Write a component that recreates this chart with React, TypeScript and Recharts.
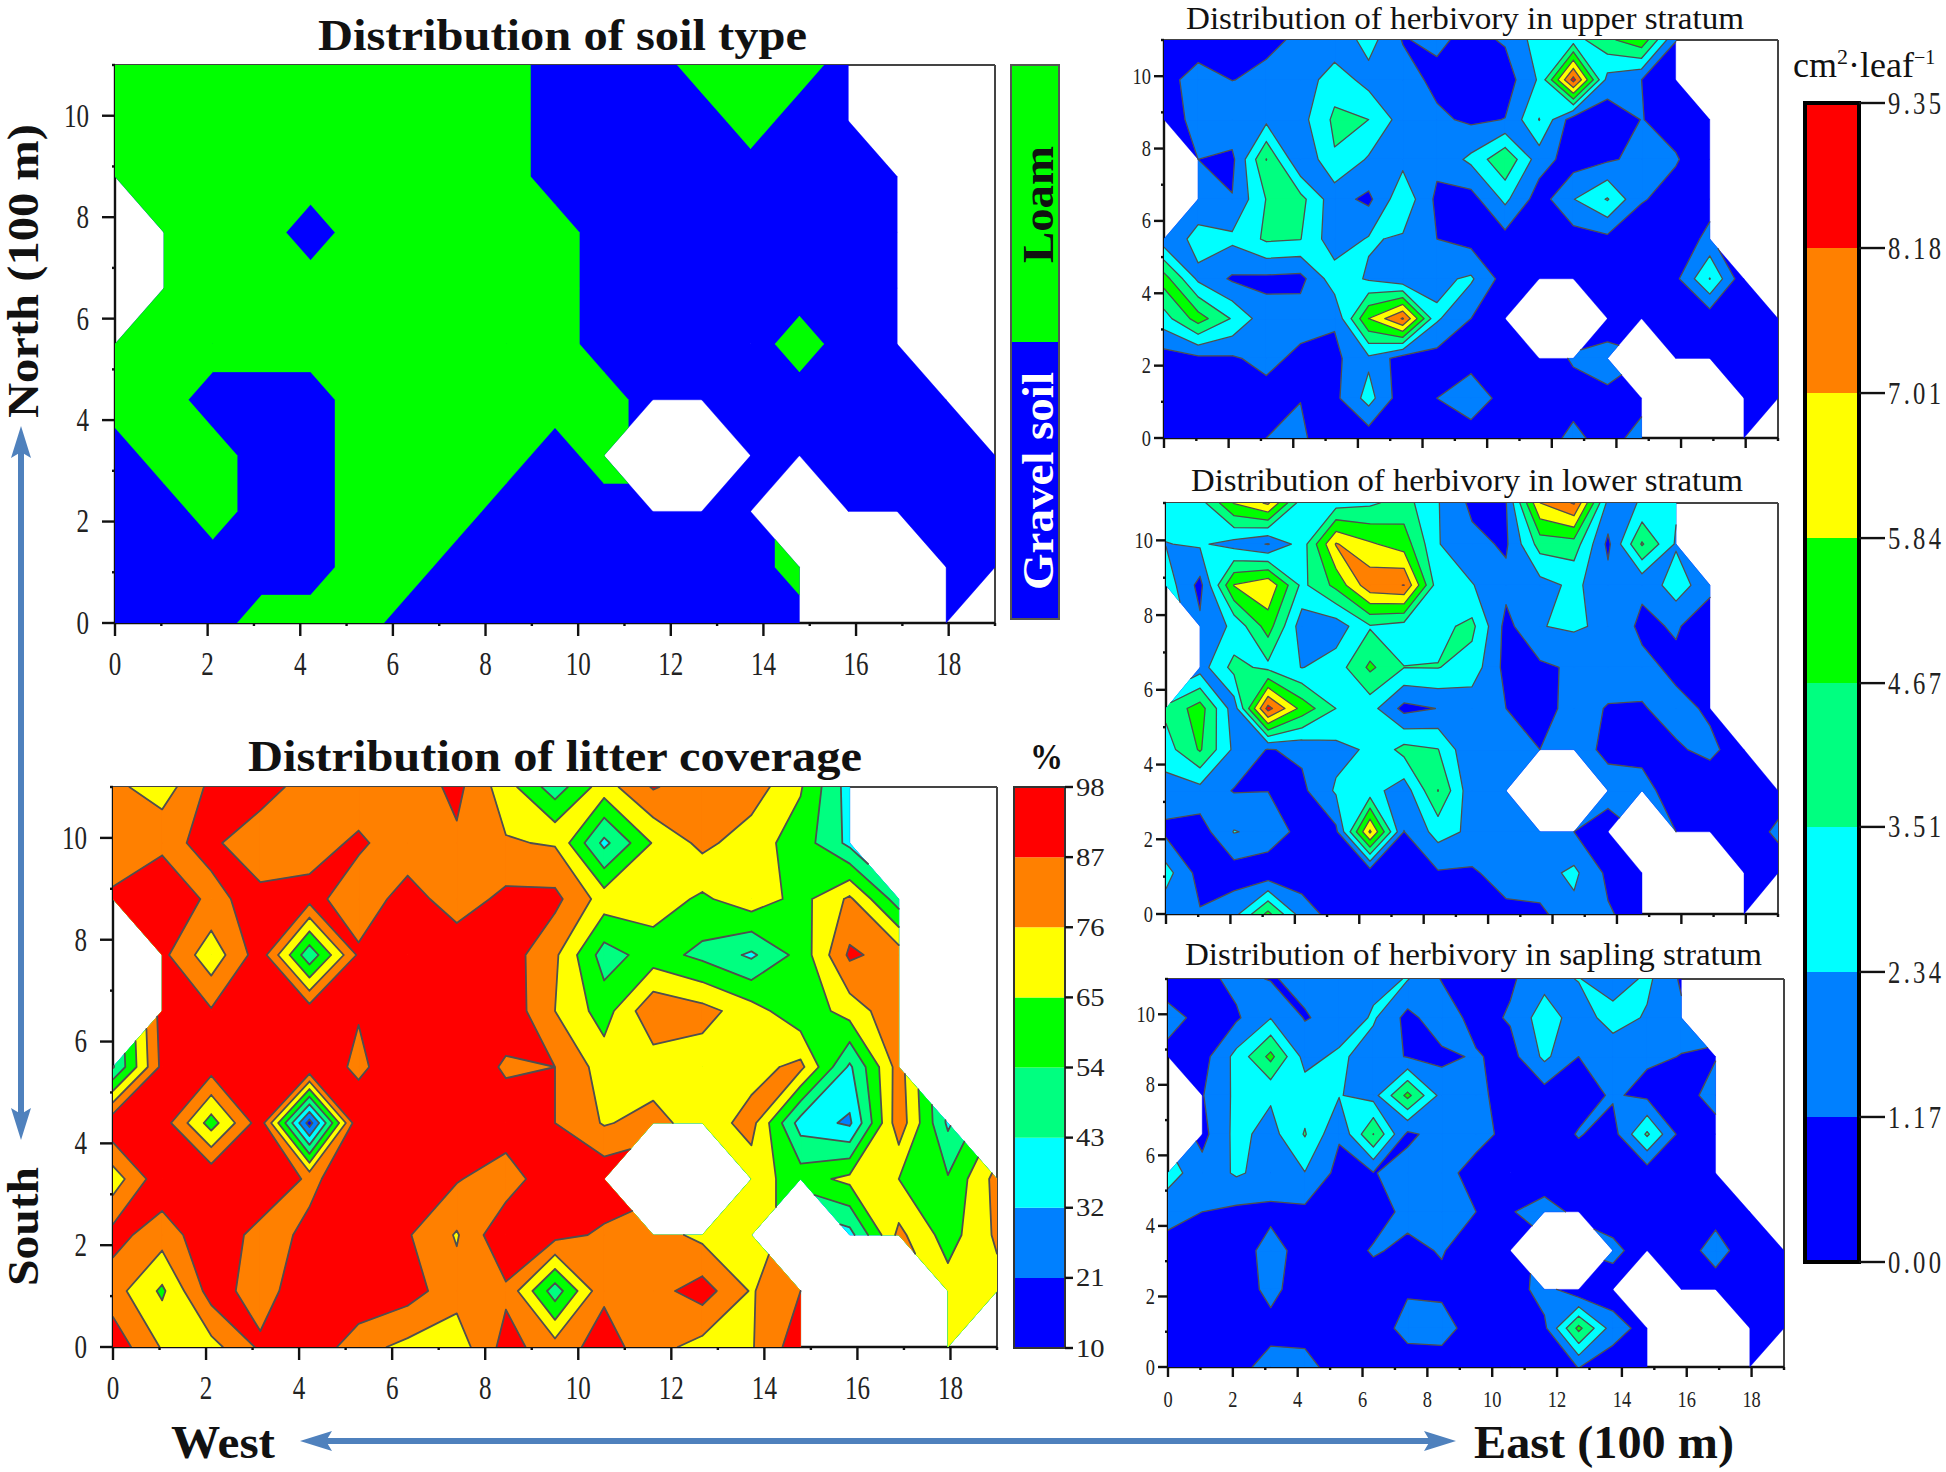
import { ReferenceArea, ReferenceLine, Scatter, ScatterChart, XAxis, YAxis } from 'recharts'

const M = null
const SERIF = '"Liberation Serif", serif'

const bandColors = ['#0000ff', '#0080ff', '#00ffff', '#00ff80', '#00ff00', '#ffff00', '#ff8000', '#ff0000']
const litterLevels = [10, 21, 32, 43, 54, 65, 76, 87, 98]
const herbLevels = [0, 1.17, 2.34, 3.51, 4.67, 5.84, 7.01, 8.18, 9.35]
const soilColors = ['#0000ff', '#00ff00']
const soilLevels = [0, 0.5, 1]

// rows run from north (y = 11) to south (y = 0), 19 columns from west to east
const soilGrid = [
  [1, 1, 1, 1, 1, 1, 1, 1, 1, 0, 0, 0, 1, 1, 1, 0, M, M, M],
  [1, 1, 1, 1, 1, 1, 1, 1, 1, 0, 0, 0, 0, 1, 0, 0, M, M, M],
  [1, 1, 1, 1, 1, 1, 1, 1, 1, 0, 0, 0, 0, 0, 0, 0, 0, M, M],
  [M, 1, 1, 1, 0, 1, 1, 1, 1, 1, 0, 0, 0, 0, 0, 0, 0, M, M],
  [M, 1, 1, 1, 1, 1, 1, 1, 1, 1, 0, 0, 0, 0, 0, 0, 0, M, M],
  [1, 1, 1, 1, 1, 1, 1, 1, 1, 1, 0, 0, 0, 0, 1, 0, 0, M, M],
  [1, 1, 0, 0, 0, 1, 1, 1, 1, 1, 1, 0, 0, 0, 0, 0, 0, 0, M],
  [0, 1, 1, 0, 0, 1, 1, 1, 1, 0, 1, M, M, 0, 0, 0, 0, 0, 0],
  [0, 0, 1, 0, 0, 1, 1, 1, 0, 0, 0, 0, 0, 0, M, 0, 0, 0, 0],
  [0, 0, 0, 0, 0, 1, 1, 0, 0, 0, 0, 0, 0, 0, 1, M, M, 0, 0],
  [0, 0, 0, 1, 1, 1, 0, 0, 0, 0, 0, 0, 0, 0, 0, M, M, 0, M],
]

const litterGrid = [
  [79, 70, 90, 92, 82, 80, 80, 90, 70, 48, 71, 88, 80, 82, 66, 38, M, M, M],
  [80, 85, 89, 80, 82, 89, 80, 85, 77, 75, 40, 66, 79, 70, 60, 40, M, M, M],
  [89, 94, 85, 90, 91, 80, 92, 81, 90, 90, 71, 71, 63, 72, 61, 78, 48, M, M],
  [M, 90, 69, 93, 46, 89, 95, 95, 93, 78, 49, 59, 51, 41, 58, 89, 82, M, M],
  [M, 92, 88, 95, 93, 88, 96, 95, 95, 76, 60, 85, 80, 70, 57, 70, 84, M, M],
  [42, 90, 92, 96, 97, 84, 98, 98, 85, 87, 71, 70, 70, 72, 79, 41, 81, M, M],
  [96, 93, 60, 93, 16, 97, 98, 98, 95, 87, 75, 80, 70, 80, 38, 30, 83, 41, M],
  [70, 95, 97, 97, 85, 93, 92, 88, 80, 97, 95, M, M, 70, 60, 68, 65, 55, 80],
  [91, 81, 95, 83, 89, 98, 88, 75, 97, 91, 85, 81, 73, 70, M, 39, 79, 60, 78],
  [81, 63, 92, 82, 95, 97, 92, 80, 85, 48, 85, 83, 92, 75, 87, M, M, 70, 72],
  [94, 75, 72, 89, 96, 80, 73, 70, 91, 81, 92, 80, 72, 75, 94, M, M, 70, M],
]

const upperGrid = [
  [0.5, 0.6, 0.8, 1.0, 1.3, 1.5, 2.8, 1.1, 1.4, 0.8, 1.3, 2.9, 3.0, 4.4, 5.5, 1.2, M, M, M],
  [0.8, 1.6, 1.15, 1.35, 1.6, 3.0, 1.9, 1.7, 0.85, 0.4, 0.55, 2.5, 8.6, 1.9, 1.17, 0.5, M, M, M],
  [0.8, 1.4, 2.0, 2.05, 1.9, 3.75, 3.51, 1.8, 1.4, 0.95, 1.2, 3.55, 0.5, 0.4, 1.2, 0.8, 0.5, M, M],
  [M, 1.17, 0.9, 4.7, 1.2, 3.4, 2.2, 2.0, 1.5, 2.6, 4.5, 1.7, 0.6, 1.0, 1.5, 1.25, 0.5, M, M],
  [M, 1.7, 1.22, 3.55, 3.9, 1.6, 0.9, 3.2, 0.9, 0.7, 2.6, 0.6, 2.3, 3.6, 1.25, 0.8, 0.8, M, M],
  [1.6, 2.7, 2.6, 3.7, 3.55, 1.6, 2.45, 2.2, 1.17, 0.75, 0.75, 0.5, 0.6, 0.85, 0.5, 0.5, 1.45, M, M],
  [5.2, 2.1, 1.0, 0.9, 0.8, 3.0, 2.2, 1.4, 2.1, 2.5, 0.65, 0.5, 0.5, 0.5, 0.5, 0.88, 3.55, 0.3, M],
  [3.0, 5.2, 3.4, 1.6, 1.8, 1.3, 5.85, 8.3, 2.5, 1.17, 0.8, M, M, 0.7, 0.5, 0.5, 0.4, 0.4, 0.4],
  [0.6, 0.9, 1.0, 1.6, 0.8, 0.9, 2.1, 0.6, 0.7, 0.9, 0.5, 0.5, 1.3, 1.5, M, 0.5, 0.5, 0.5, 0.4],
  [0.6, 0.6, 0.6, 0.6, 1.14, 0.86, 2.8, 0.44, 1.17, 1.6, 0.9, 0.6, 0.7, 1.0, 0.7, M, M, 0.5, 0.4],
  [0.5, 0.5, 0.5, 1.17, 1.4, 0.3, 0.47, 0.5, 0.5, 0.8, 0.5, 0.5, 1.5, 0.6, 1.7, M, M, 0.4, M],
]

const lowerGrid = [
  [3, 3, 5.9, 7.2, 2.8, 3, 3.3, 4, 2.4, 0.9, 1.1, 7, 8.3, 2, 2.4, 2.5, M, M, M],
  [2.3, 2.5, 1.9, 1.1, 2.9, 7.1, 6.0, 5.3, 2.4, 1.5, 1.0, 4.0, 4.13, 0.9, 4.8, 2.2, M, M, M],
  [3, 0.8, 5.9, 6.8, 3.2, 5.0, 7.8, 8.2, 2.8, 2.4, 1.5, 1.9, 2.6, 1.6, 1.4, 3.0, 1.5, M, M],
  [M, 1.4, 2.6, 5.2, 1.7, 1.7, 3.4, 3.0, 3.2, 3.8, 0.8, 2.3, 2.5, 2.1, 0.9, 1.3, 0.4, M, M],
  [M, 1.8, 3.9, 3.2, 2.3, 2.9, 4.9, 3.53, 3.55, 3.0, 0.8, 0.94, 1.35, 1.7, 1.5, 0.9, 0.6, M, M],
  [3.8, 5.2, 1.7, 8.6, 5.4, 3.5, 2.8, 0.8, 1.2, 1.6, 1.17, 0.7, 1.6, 1.1, 1.1, 1.5, 1.0, M, M],
  [3, 4.8, 2.1, 1.1, 1.4, 2.0, 2.5, 3.9, 3.55, 1.2, 1.6, 1.17, 1.3, 1.1, 0.9, 1.05, 1.4, 0.6, M],
  [1.8, 1.9, 1.1, 1.15, 0.9, 2.5, 2.8, 1.7, 4.7, 1.5, 1.3, M, M, 1.3, 1.5, 0.7, 0.5, 0.5, 0.6],
  [0.9, 0.6, 2.4, 2.0, 0.7, 0.9, 7.2, 1.15, 2.8, 2.1, 1.6, 1.3, 1.17, 1.0, M, 1.17, 0.6, 0.5, 1.4],
  [2.8, 0.7, 0.6, 0.3, 0.6, 0.7, 0.42, 0.7, 1.05, 1.0, 1.7, 1.9, 2.6, 0.9, 0.6, M, M, 0.5, 0.5],
  [1.6, 1.27, 1.9, 5, 1.7, 0.7, 0.9, 0.8, 0.8, 0.8, 0.85, 0.9, 2.0, 1.3, 0.6, M, M, 0.5, M],
]

const saplingGrid = [
  [0.5, 0.8, 1.5, 1.1, 1.4, 1.6, 2.0, 2.4, 1.1, 0.6, 1.0, 1.9, 2.4, 1.6, 2.6, 1.0, M, M, M],
  [1.6, 0.8, 1.0, 2.3, 1.1, 1.5, 2.5, 0.8, 1.9, 0.7, 1.3, 3.0, 1.7, 2.9, 2.2, 1.4, M, M, M],
  [0.8, 0.7, 2.7, 5, 1.9, 2.6, 1.7, 1.1, 0.9, 1.3, 0.7, 2.6, 1.17, 1.5, 1.3, 1.15, 1.1, M, M],
  [M, 1.1, 2.6, 2.5, 3.0, 2.4, 1.9, 5.0, 1.9, 1.5, 0.6, 0.6, 0.7, 1.3, 0.9, 0.6, 1.7, M, M],
  [M, 0.8, 2.7, 1.9, 3.6, 1.3, 4.7, 0.9, 1.7, 1.6, 0.8, 0.5, 1.25, 0.7, 3.7, 0.7, 0.6, M, M],
  [2.9, 1.6, 2.5, 1.9, 2.3, 0.8, 1.1, 1.7, 1.6, 0.7, 0.5, 0.5, 0.5, 0.5, 0.5, 0.5, 0.5, M, M],
  [1.5, 1.17, 0.9, 0.9, 0.9, 0.5, 0.6, 1.5, 1.7, 1.17, 1.1, 1.6, 0.9, 0.5, 0.5, 0.5, 0.7, 0.4, M],
  [0.8, 0.5, 0.6, 1.6, 0.7, 0.5, 1.3, 0.9, 1.25, 0.5, 0.4, M, M, 1.5, 0.5, 0.5, 1.7, 0.4, 0.4],
  [0.5, 0.5, 0.5, 1.5, 0.5, 0.5, 0.5, 1.03, 0.9, 0.5, 0.5, 1.7, 0.2, 0.5, M, 0.5, 0.5, 0.4, 0.4],
  [0.5, 0.5, 0.5, 0.8, 0.8, 0.5, 0.5, 1.6, 1.7, 0.5, 0.5, 0.9, 5, 1.7, 0.7, M, M, 0.4, 0.4],
  [0.5, 0.5, 0.8, 1.6, 1.5, 0.7, 0.5, 0.5, 0.5, 0.5, 0.5, 0.5, 1.2, 0.5, 0.5, M, M, 0.4, M],
]

// cells (column, row of the SW corner) whose saddle joins the SW-NE corners instead of NW-SE
const litterFlips = ['5,8', '4,8', '9,9', '13,4', '0,2', '3,2', '7,2']
const upperFlips = ['6,5', '5,4', '8,3', '11,6']
const lowerFlips = ['14,8', '8,6']
const saplingFlips = ['6,9', '5,8', '12,6', '6,5', '6,3', '13,9']

const xTicks = Array.from({ length: 20 }, (_, i) => i)
const yTicks = Array.from({ length: 12 }, (_, i) => i)

type Node = { x: number; y: number; v: number }
type Pt = { x: number; y: number }
type Cell = { nodes: Node[]; flip: boolean }

// grid cells as polygons (sw, se, ne, nw); a cell with one missing corner keeps the other three
function gridCells(grid: (number | null)[][], flips: string[]) {
  const node = (i: number, j: number): Node | null => {
    const v = grid[10 - j][i]
    return v === null ? null : { x: (i * 19) / 18, y: j * 1.1, v }
  }
  const cells: Cell[] = []
  for (let j = 0; j < 10; j++) {
    for (let i = 0; i < 18; i++) {
      const nodes = [node(i, j), node(i + 1, j), node(i + 1, j + 1), node(i, j + 1)].filter(Boolean) as Node[]
      if (nodes.length >= 3) cells.push({ nodes, flip: flips.includes(`${i},${j}`) })
    }
  }
  return cells
}

function crossing(a: Node, b: Node, level: number): Pt {
  const t = (level - a.v) / (b.v - a.v)
  return { x: a.x + (b.x - a.x) * t, y: a.y + (b.y - a.y) * t }
}

function clipPolygon(cell: Node[], level: number) {
  const start = cell.findIndex((n) => n.v >= level)
  if (start < 0) return { rings: [] as Pt[][], segments: [] as Pt[] }
  const ring: Pt[] = []
  const segments: Pt[] = []
  let leaving: Pt | null = null
  for (let k = 0; k < cell.length; k++) {
    const a = cell[(start + k) % cell.length]
    const b = cell[(start + k + 1) % cell.length]
    const aIn = a.v >= level
    const bIn = b.v >= level
    if (aIn) ring.push({ x: a.x, y: a.y })
    if (aIn && !bIn) {
      leaving = crossing(a, b, level)
      ring.push(leaving)
    } else if (!aIn && bIn) {
      const entering = crossing(a, b, level)
      ring.push(entering)
      if (leaving) segments.push(leaving, entering)
    }
  }
  return { rings: [ring], segments }
}

// two high corners of a saddle either stay joined or are cut off as separate triangles
function clipCell(cell: Cell, level: number) {
  if (cell.nodes.length === 4) {
    const [sw, se, ne, nw] = cell.nodes
    const swNe = sw.v >= level && ne.v >= level && se.v < level && nw.v < level
    const nwSe = nw.v >= level && se.v >= level && sw.v < level && ne.v < level
    const pair = !cell.flip && swNe ? [sw, ne] : cell.flip && nwSe ? [nw, se] : null
    if (pair) {
      const lows = swNe ? [se, nw] : [sw, ne]
      const rings: Pt[][] = []
      const segments: Pt[] = []
      pair.forEach((corner) => {
        const a = crossing(corner, lows[0], level)
        const b = crossing(corner, lows[1], level)
        rings.push([{ x: corner.x, y: corner.y }, a, b])
        segments.push(a, b)
      })
      return { rings, segments }
    }
  }
  return clipPolygon(cell.nodes, level)
}

function Nothing() {
  return <g />
}

function ContourPanel({ grid, flips = [], levels, colors, rect, labelX, sizes, contour }: any) {
  const { left, top, right, bottom } = rect
  const yw = 70
  const xh = 70
  const m = 4
  const cells = gridCells(grid, flips)
  const bands: { color: string; points: Pt[]; sizes: number[] }[] = []
  const lines: Pt[] = []
  colors.forEach((color: string, k: number) => {
    const points: Pt[] = []
    const ringSizes: number[] = []
    cells.forEach((cell) => {
      const { rings, segments } = k === 0 ? { rings: [cell.nodes as Pt[]], segments: [] } : clipCell(cell, levels[k])
      rings.forEach((ring) => {
        points.push(...ring.map((p) => ({ x: p.x, y: p.y })))
        ringSizes.push(ring.length)
      })
      lines.push(...segments)
    })
    bands.push({ color, points, sizes: ringSizes })
  })

  const xTick = (p: any) => {
    const even = p.payload.value % 2 === 0
    return (
      <g>
        <line x1={p.x} x2={p.x} y1={p.y} y2={p.y + (even ? sizes.major : 3)} stroke="#111" strokeWidth={2.4} />
        {even && labelX && (
          <text
            transform={`translate(${p.x},${p.y + sizes.xBase}) scale(${sizes.sx},1)`}
            textAnchor="middle"
            fontFamily={SERIF}
            fontSize={sizes.font}
            fill="#222"
          >
            {p.payload.value}
          </text>
        )}
      </g>
    )
  }
  const yTick = (p: any) => {
    const even = p.payload.value % 2 === 0
    return (
      <g>
        <line x1={p.x} x2={p.x - (even ? sizes.major : 3)} y1={p.y} y2={p.y} stroke="#111" strokeWidth={2.4} />
        {even && (
          <text
            transform={`translate(${p.x - sizes.yGap},${p.y + sizes.font * 0.33}) scale(${sizes.sx},1)`}
            textAnchor="end"
            fontFamily={SERIF}
            fontSize={sizes.font}
            fill="#222"
          >
            {p.payload.value}
          </text>
        )}
      </g>
    )
  }

  return (
    <div style={{ position: 'absolute', left: left - yw, top: top - m }}>
      <ScatterChart
        width={right - left + yw + m}
        height={bottom - top + xh + m}
        margin={{ top: m, right: m, bottom: 0, left: 0 }}
      >
        <XAxis
          type="number"
          dataKey="x"
          domain={[0, 19]}
          ticks={xTicks}
          interval={0}
          height={xh}
          tickSize={0}
          tickMargin={0}
          tickLine={false}
          tick={xTick}
          axisLine={{ stroke: '#111', strokeWidth: 2.4 }}
          allowDataOverflow
        />
        <YAxis
          type="number"
          dataKey="y"
          domain={[0, 11]}
          ticks={yTicks}
          interval={0}
          width={yw}
          tickSize={0}
          tickMargin={0}
          tickLine={false}
          tick={yTick}
          axisLine={{ stroke: '#111', strokeWidth: 2.4 }}
          allowDataOverflow
        />
        {bands.map((band) => (
          <Scatter
            key={band.color}
            data={band.points}
            isAnimationActive={false}
            shape={Nothing}
            line={(props: any) => {
              let d = ''
              let at = 0
              band.sizes.forEach((n) => {
                const ring = props.points.slice(at, at + n)
                d += ring.map((q: Pt, idx: number) => `${idx ? 'L' : 'M'}${q.x} ${q.y}`).join('') + 'Z'
                at += n
              })
              return <path d={d} fill={band.color} stroke={band.color} strokeWidth={0.4} />
            }}
          />
        ))}
        {contour && (
          <Scatter
            data={lines}
            isAnimationActive={false}
            shape={Nothing}
            line={(props: any) => {
              let d = ''
              for (let s = 0; s + 1 < props.points.length; s += 2) {
                const a = props.points[s]
                const b = props.points[s + 1]
                d += `M${a.x} ${a.y}L${b.x} ${b.y}`
              }
              return <path d={d} fill="none" stroke="#4f4f4f" strokeWidth={contour} strokeLinecap="round" />
            }}
          />
        )}
        <ReferenceLine y={11} stroke="#444" strokeWidth={2} />
        <ReferenceLine x={19} stroke="#444" strokeWidth={2} />
      </ScatterChart>
    </div>
  )
}

function ColorBar({ levels, colors, rect, tickLen, label, frame, showTicks }: any) {
  const { left, top, right, bottom } = rect
  const rw = 84
  const m = 20
  const lo = levels[0]
  const hi = levels[levels.length - 1]
  const tick = (p: any) =>
    showTicks ? (
      <text
        transform={`translate(${p.x},${p.y + label.font * 0.33}) scale(${label.sx},1)`}
        fontFamily={SERIF}
        fontSize={label.font}
        letterSpacing={label.spacing}
        fill="#222"
      >
        {Number(p.payload.value).toFixed(label.decimals)}
      </text>
    ) : (
      <g />
    )
  return (
    <div style={{ position: 'absolute', left: left - m, top: top - m }}>
      <ScatterChart
        width={right - left + rw + m}
        height={bottom - top + 2 * m}
        margin={{ top: m, right: 0, bottom: m, left: m }}
      >
        <XAxis type="number" dataKey="x" domain={[0, 1]} hide height={0} />
        <YAxis
          type="number"
          dataKey="y"
          orientation="right"
          domain={[lo, hi]}
          ticks={levels}
          interval={0}
          width={rw}
          tickSize={tickLen}
          tickMargin={3}
          tickLine={showTicks ? { stroke: '#111', strokeWidth: 2.4 } : false}
          axisLine={false}
          tick={tick}
        />
        <Scatter
          data={[
            { x: 0, y: lo },
            { x: 1, y: hi },
          ]}
          isAnimationActive={false}
          shape={Nothing}
        />
        {colors.map((color: string, k: number) => (
          <ReferenceArea key={color} x1={0} x2={1} y1={levels[k]} y2={levels[k + 1]} fill={color} fillOpacity={1} stroke="none" />
        ))}
        <ReferenceArea x1={0} x2={1} y1={lo} y2={hi} fill="none" stroke={frame.color} strokeWidth={frame.width} />
      </ScatterChart>
    </div>
  )
}

const bigTicks = { major: 13, xBase: 52, yGap: 26, font: 33, sx: 0.76 }
const smallTicks = { major: 10, xBase: 40, yGap: 13, font: 23, sx: 0.8 }

const T = ({ x, y, w, size, bold, rotate, fill, children }: any) => (
  <text
    x={rotate ? 0 : x}
    y={rotate ? 0 : y}
    transform={rotate ? `translate(${x},${y}) rotate(-90)` : undefined}
    textLength={w}
    lengthAdjust="spacingAndGlyphs"
    fontFamily={SERIF}
    fontSize={size}
    fontWeight={bold ? 700 : 400}
    fill={fill ?? '#111'}
  >
    {children}
  </text>
)

export default function App() {
  const arrow = '#4f81bd'
  return (
    <div style={{ position: 'absolute', left: 0, top: 0, width: 1946, height: 1472, background: '#fff', overflow: 'hidden' }}>
      <ContourPanel grid={soilGrid} levels={soilLevels} colors={soilColors} rect={{ left: 115, top: 65, right: 995, bottom: 623 }} labelX sizes={bigTicks} />
      <ContourPanel grid={litterGrid} flips={litterFlips} levels={litterLevels} colors={bandColors} rect={{ left: 113, top: 787, right: 997, bottom: 1347 }} labelX sizes={bigTicks} contour={1.8} />
      <ContourPanel grid={upperGrid} flips={upperFlips} levels={herbLevels} colors={bandColors} rect={{ left: 1164, top: 40, right: 1778, bottom: 438 }} sizes={smallTicks} contour={1.3} />
      <ContourPanel grid={lowerGrid} flips={lowerFlips} levels={herbLevels} colors={bandColors} rect={{ left: 1166, top: 503, right: 1778, bottom: 914 }} sizes={smallTicks} contour={1.3} />
      <ContourPanel grid={saplingGrid} flips={saplingFlips} levels={herbLevels} colors={bandColors} rect={{ left: 1168, top: 979, right: 1784, bottom: 1367 }} labelX sizes={smallTicks} contour={1.3} />

      <ColorBar levels={soilLevels} colors={soilColors} rect={{ left: 1011, top: 65, right: 1059, bottom: 619 }} tickLen={0} label={{ font: 20, sx: 1, spacing: 0, decimals: 0 }} frame={{ color: '#555', width: 2 }} showTicks={false} />
      <ColorBar levels={litterLevels} colors={bandColors} rect={{ left: 1014, top: 787, right: 1065, bottom: 1348 }} tickLen={8} label={{ font: 26, sx: 1.1, spacing: 0, decimals: 0 }} frame={{ color: '#333', width: 2 }} showTicks />
      <ColorBar levels={herbLevels} colors={bandColors} rect={{ left: 1805, top: 103, right: 1859, bottom: 1262 }} tickLen={26} label={{ font: 32, sx: 0.77, spacing: 4.3, decimals: 2 }} frame={{ color: '#000', width: 4 }} showTicks />

      <svg width={1946} height={1472} style={{ position: 'absolute', left: 0, top: 0, pointerEvents: 'none' }}>
        <T x={318} y={50} w={489} size={44} bold>Distribution of soil type</T>
        <T x={248} y={771} w={614} size={44} bold>Distribution of litter coverage</T>
        <T x={1186} y={29} w={558} size={32}>Distribution of herbivory in upper stratum</T>
        <T x={1191} y={491} w={552} size={32}>Distribution of herbivory in lower stratum</T>
        <T x={1185} y={965} w={577} size={32}>Distribution of herbivory in sapling stratum</T>

        <T x={38} y={418} w={294} size={44} bold rotate>North (100 m)</T>
        <T x={38} y={1286} w={119} size={44} bold rotate>South</T>
        <T x={171} y={1458} w={104} size={46} bold>West</T>
        <T x={1474} y={1458} w={260} size={46} bold>East (100 m)</T>
        <T x={1053} y={263} w={117} size={44} bold rotate>Loam</T>
        <T x={1053} y={590} w={218} size={44} bold rotate fill="#fff">Gravel soil</T>
        <T x={1030} y={769} w={33} size={36} bold>%</T>

        <text x={1793} y={77} fontFamily={SERIF} fontSize={36} fill="#111">
          cm<tspan dy={-13} fontSize={22}>2</tspan>
          <tspan dy={13}>·leaf</tspan>
          <tspan dy={-13} fontSize={20}>−1</tspan>
        </text>

        <g fill={arrow}>
          <rect x={325} y={1438} width={1108} height={6} />
          <polygon points="300,1441 332,1431 326,1441 332,1451" />
          <polygon points="1456,1441 1424,1431 1430,1441 1424,1451" />
          <rect x={18} y={450} width={6} height={665} />
          <polygon points="21,426 11,458 21,452 31,458" />
          <polygon points="21,1140 11,1108 21,1114 31,1108" />
        </g>
      </svg>
    </div>
  )
}
